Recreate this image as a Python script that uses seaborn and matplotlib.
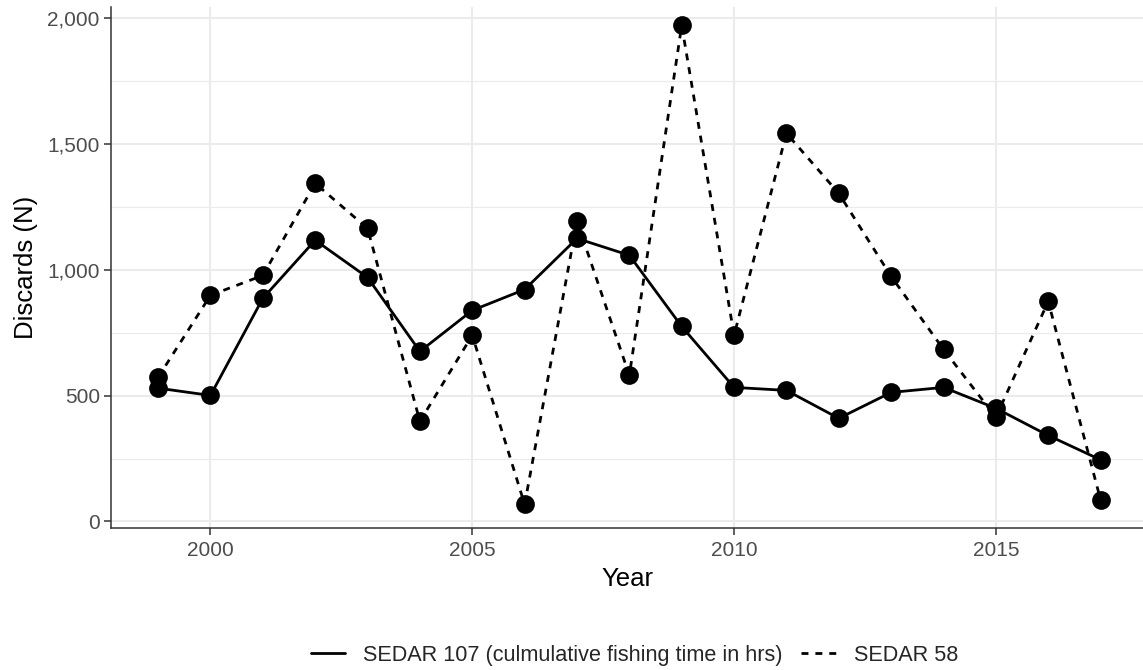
import numpy as np
import pandas as pd
import matplotlib
matplotlib.use("Agg")
import matplotlib.pyplot as plt
from matplotlib.lines import Line2D
from matplotlib.ticker import FuncFormatter, MultipleLocator
import seaborn as sns

years = list(range(1999, 2018))
sedar107 = [530, 501, 887, 1118, 970, 676, 839, 922, 1125, 1058, 775,
            533, 521, 410, 513, 533, 450, 342, 245]
sedar58 = [573, 899, 978, 1344, 1165, 398, 740, 68, 1193, 581, 1972,
           740, 1543, 1304, 974, 684, 414, 875, 86]
series_names = ["SEDAR 107 (culmulative fishing time in hrs)", "SEDAR 58"]

df = pd.concat([
    pd.DataFrame({"Year": years, "Discards": sedar107, "Source": series_names[0]}),
    pd.DataFrame({"Year": years, "Discards": sedar58, "Source": series_names[1]}),
])

sns.set_theme(style="white")
plt.rcParams["font.family"] = ["Liberation Sans", "DejaVu Sans"]

fig = plt.figure(figsize=(11.43, 6.70), dpi=100)
ax = fig.add_axes([0.0971, 0.2119, 0.9029, 0.7777])

LW = 2.0
dash_styles = {series_names[0]: "", series_names[1]: (2.5, 2.5)}
sns.lineplot(data=df, x="Year", y="Discards", style="Source",
             dashes=dash_styles, color="black", linewidth=LW,
             marker="o", markersize=13.5, markeredgewidth=0,
             ax=ax, legend=False, zorder=3)

ax.set_xlim(1998.1, 2017.81)
ax.set_ylim(-26, 2045)
ax.xaxis.set_major_locator(MultipleLocator(5))
ax.yaxis.set_major_locator(MultipleLocator(500))
ax.yaxis.set_minor_locator(MultipleLocator(250))
ax.yaxis.set_major_formatter(FuncFormatter(lambda v, p: f"{int(v):,}"))

ax.grid(True, which="major", axis="both", color="#EBEBEB", linewidth=1.5, zorder=0)
ax.grid(True, which="minor", axis="y", color="#EBEBEB", linewidth=0.8, zorder=0)
ax.set_axisbelow(True)

for s in ["top", "right"]:
    ax.spines[s].set_visible(False)
for s in ["left", "bottom"]:
    ax.spines[s].set_color("#333333")
    ax.spines[s].set_linewidth(1.1)

ax.tick_params(axis="both", which="major", length=5, width=1.1, color="#333333",
               labelsize=15, labelcolor="#4D4D4D", pad=3, left=True, bottom=True)
ax.tick_params(axis="x", which="major", pad=4.5)
ax.tick_params(axis="y", which="minor", length=0)

ax.set_xlabel("Year", fontsize=18.5, color="black", labelpad=5)
ax.set_ylabel("Discards (N)", fontsize=18.5, color="black", labelpad=7)

handles = [
    Line2D([], [], color="black", linewidth=LW, linestyle="-"),
    Line2D([], [], color="black", linewidth=LW, linestyle=(0, (2.5, 2.5))),
]
fig.legend(handles, series_names, loc="center", bbox_to_anchor=(0.555, 0.022),
           ncol=2, frameon=False, fontsize=15.6, handlelength=1.6,
           columnspacing=0.83, handletextpad=0.83)

fig.savefig("out.png", dpi=100)
